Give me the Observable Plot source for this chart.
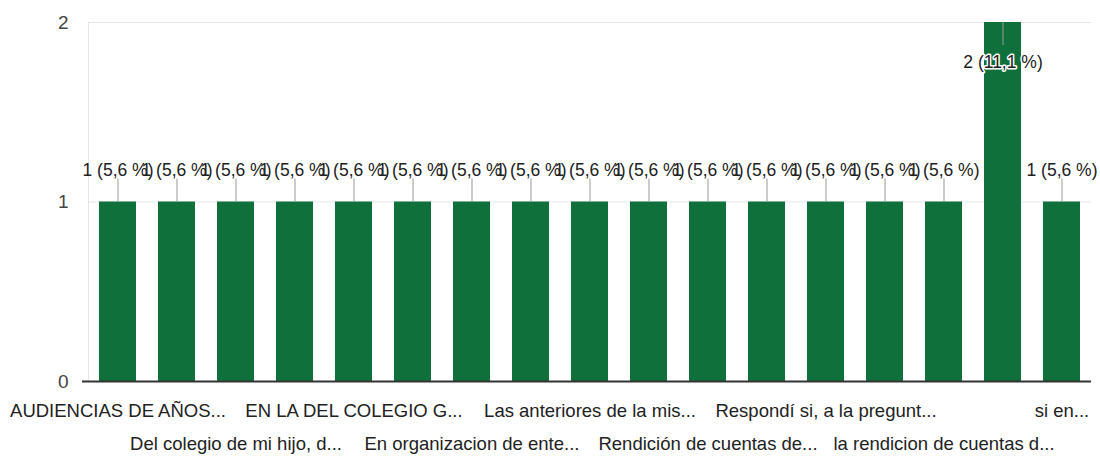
<!DOCTYPE html>
<html><head><meta charset="utf-8">
<script src="https://cdn.jsdelivr.net/npm/d3@7"></script>
<script src="https://cdn.jsdelivr.net/npm/@observablehq/plot@0.6"></script>
<style>body{margin:0;background:#fff} #chart svg{display:block}</style>
</head><body><div id="chart"></div>
<script>
// Category tick labels as shown (Google Forms hides every other label: empty strings)
const labels = [
  "AUDIENCIAS DE AÑOS...", "", "Del colegio de mi hijo, d...", "",
  "EN LA DEL COLEGIO G...", "", "En organizacion de ente...", "",
  "Las anteriores de la mis...", "", "Rendición de cuentas de...", "",
  "Respondí si, a la pregunt...", "", "la rendicion de cuentas d...", "",
  "si en..."
];
const counts = [1,1,1,1,1,1,1,1,1,1,1,1,1,1,1,2,1];
const percents = ["5,6 %","5,6 %","5,6 %","5,6 %","5,6 %","5,6 %","5,6 %","5,6 %","5,6 %","5,6 %","5,6 %","5,6 %","5,6 %","5,6 %","5,6 %","11,1 %","5,6 %"];
const yTicks = [0, 1, 2];

const data = counts.map((v, i) => ({i, value: v, label: `${v} (${percents[i]})`}));
const shown = labels.map((l, i) => l ? i : -1).filter(i => i >= 0);
const row1 = shown.filter((_, k) => k % 2 === 0);
const row2 = shown.filter((_, k) => k % 2 === 1);
const maxV = d3.max(counts);
const lowerBars = data.filter(d => d.value < maxV);
const topBars = data.filter(d => d.value === maxV);
const font = "'Liberation Sans', Arial, sans-serif";

const chart = Plot.plot({
  width: 1100, height: 459,
  marginTop: 22, marginBottom: 78, marginLeft: 88, marginRight: 9,
  style: {fontFamily: font, fontSize: "17px", color: "#222", background: "#fff", overflow: "visible"},
  x: {type: "band", domain: d3.range(counts.length), paddingInner: 0.373, paddingOuter: 0.186, axis: null, label: null},
  y: {domain: [0, 2], axis: null, label: null},
  marks: [
    Plot.gridY(yTicks.filter(t => t > 0), {stroke: "#e6e6e6", strokeOpacity: 1}),
    Plot.frame({anchor: "left", stroke: "#e6e6e6"}),
    Plot.axisY(yTicks, {tickSize: 0, tickPadding: 20, tickFormat: d3.format("d"), fill: "#444", fontSize: 19, label: null}),
    Plot.barY(data, {x: "i", y: "value", fill: "#10703b"}),
    Plot.ruleY([0], {stroke: "#333", strokeWidth: 2, insetLeft: -6}),
    Plot.ruleX(lowerBars, {x: "i", y1: "value", y2: "value", insetTop: 0, insetBottom: 23, stroke: "#999"}),
    Plot.ruleX(topBars, {x: "i", y1: "value", y2: "value", insetTop: 0, insetBottom: -23, stroke: "#999"}),
    Plot.text(lowerBars, {x: "i", y: "value", text: "label", dy: -32, fill: "#222", fontSize: 17.5}),
    Plot.text(topBars, {x: "i", y: "value", text: "label", dy: 40, fill: "#222", stroke: "white", strokeWidth: 3, fontSize: 17.5}),
    Plot.axisX(row1, {tickSize: 0, tickPadding: 22, tickFormat: i => labels[i], fill: "#222", fontSize: 18.5, label: null}),
    Plot.axisX(row2, {tickSize: 0, tickPadding: 55, tickFormat: i => labels[i], fill: "#222", fontSize: 18.5, label: null})
  ]
});
document.getElementById("chart").append(chart);
</script>
</body></html>
